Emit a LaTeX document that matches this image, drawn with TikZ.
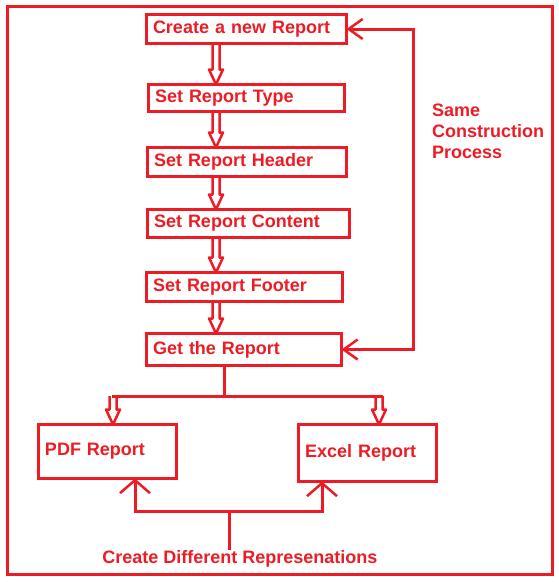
\documentclass[tikz,border=0pt]{standalone}
\usepackage{fontspec}
\setmainfont{Liberation Sans}
\usetikzlibrary{arrows.meta,calc}
\definecolor{paintred}{RGB}{237,28,36}
\newcommand\rfont{\fontsize{18pt}{21pt}\selectfont\bfseries}
\newcommand\hollowarrow[2]{%
  \draw[hollow] let \p1=(#1), \p2=(#2) in
    (\x1-3.5pt,\y1) -- (\x1-3.5pt,\y2+15pt) -- (\x1-7pt,\y2+15pt) -- (\x1,\y2)
    -- (\x1+7pt,\y2+15pt) -- (\x1+3.5pt,\y2+15pt) -- (\x1+3.5pt,\y1);}

\begin{document}
\begin{tikzpicture}[x=1pt,y=-1pt,
  box/.style={draw=paintred,line width=3pt,text=paintred,font=\rfont,
    inner xsep=6.5pt,inner ysep=0pt,outer sep=0pt,align=left,anchor=north west},
  link/.style={draw=paintred,line width=3pt},
  hollow/.style={draw=paintred,line width=2.5pt,line join=round},
  barb/.style={link,-{Straight Barb[length=13pt,width=30pt,line width=2.5pt]}},
  loop/.style={link,{Straight Barb[length=14pt,width=20pt,line width=2.5pt]}-{Straight Barb[length=14pt,width=20pt,line width=2.5pt]}},
  label/.style={text=paintred,font=\rfont,inner sep=0pt,align=left}]
  \useasboundingbox (0,0) rectangle (559,582);
  \draw[link] (7,6.5) rectangle (552,574);

  % construction steps
  \node[box,text width=187pt,minimum height=29pt] (create)  at (146.5,14.5)  {Create a new Report};
  \node[box,text width=183pt,minimum height=27pt] (type)    at (148.5,84.5)  {Set Report Type};
  \node[box,text width=186pt,minimum height=29pt] (header)  at (147.5,147.5) {Set Report Header};
  \node[box,text width=189pt,minimum height=28pt] (content) at (147.5,209.5) {Set Report Content};
  \node[box,text width=183pt,minimum height=29pt] (footer)  at (146.5,272.5) {Set Report Footer};
  \node[box,text width=182pt,minimum height=32pt] (get)     at (146.5,333.5) {Get the Report};

  % representations
  \node[box,text width=125pt,minimum height=54pt] (pdf)   at (38.5,424.5)  {PDF Report};
  \node[box,text width=125pt,minimum height=57pt] (excel) at (298.5,424.5) {Excel Report};

  \node[label] (same) at (432,131) [anchor=west] {Same\\Construction\\Process};
  \node[label] (diff) at (240,559) {Create Different Represenations};

  \coordinate (axis) at (216,0);
  \hollowarrow{create.south -| axis}{type.north -| axis}
  \hollowarrow{type.south -| axis}{header.north -| axis}
  \hollowarrow{header.south -| axis}{content.north -| axis}
  \hollowarrow{content.south -| axis}{footer.north -| axis}
  \hollowarrow{footer.south -| axis}{get.north -| axis}

  % same process loop
  \coordinate (back) at (413,0);
  \draw[loop] (get.east) -- (get.east -| back) -- (create.east -| back) -- (create.east);

  % fork to the reports
  \coordinate (fork) at (224,396);
  \coordinate (pdfin) at (113,396);
  \coordinate (excelin) at (379,396);
  \draw[link] (get.south -| fork) -- (fork);
  \draw[link] ($(pdfin)+(-1.5,0)$) -- ($(excelin)+(4,0)$);
  \hollowarrow{pdfin}{pdfin |- pdf.north}
  \hollowarrow{excelin}{excelin |- excel.north}

  % different representations
  \coordinate (join) at (229,511);
  \coordinate (pdfout) at (135,0);
  \coordinate (excelout) at (322,0);
  \draw[link] (join) -- (join |- diff.north);
  \draw[barb] (join) -| (pdf.south -| pdfout);
  \draw[barb] (join) -| (excel.south -| excelout);
\end{tikzpicture}
\end{document}
